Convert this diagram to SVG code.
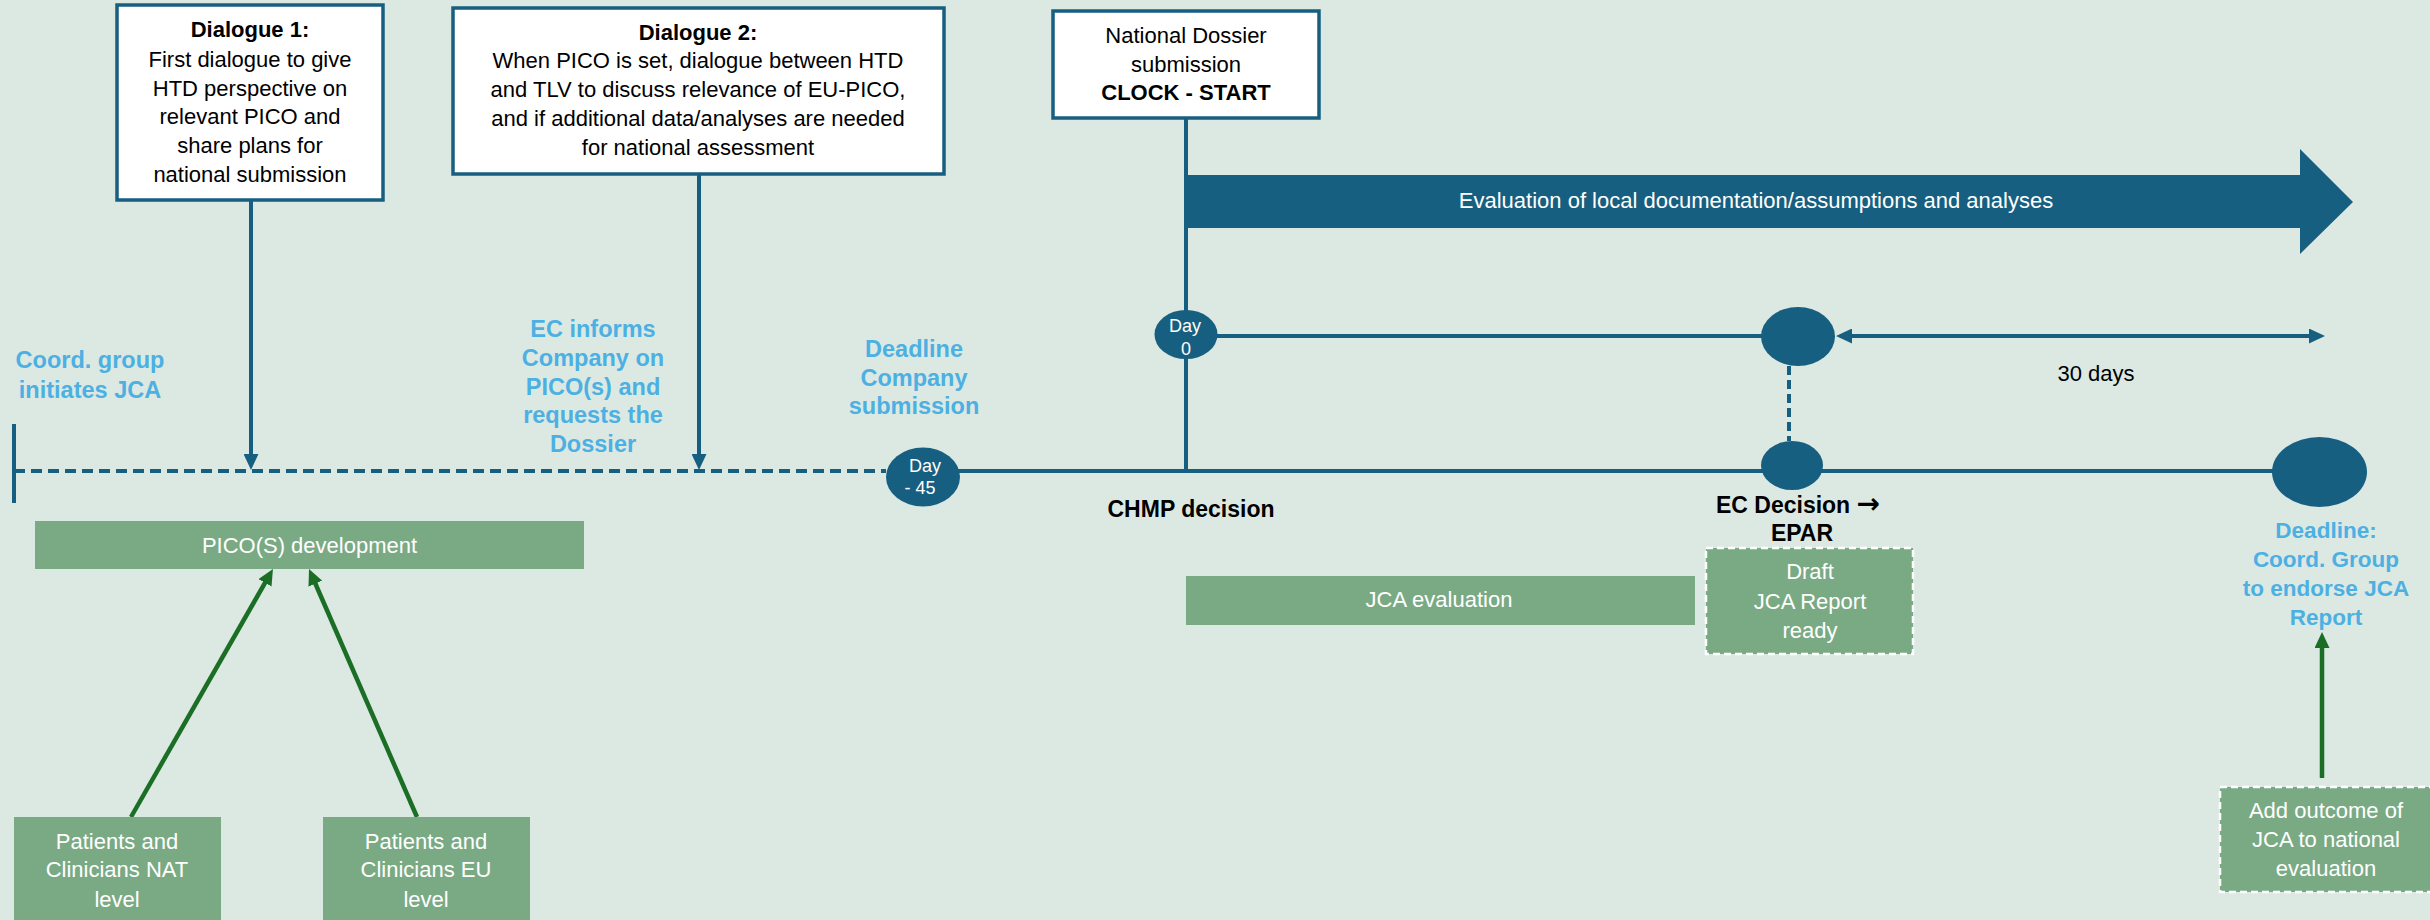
<svg xmlns="http://www.w3.org/2000/svg" width="2430" height="920" viewBox="0 0 2430 920">
<style>
text{font-family:"Liberation Sans",Arial,sans-serif}
.box{fill:#ffffff;stroke:#175f80;stroke-width:3.5}
.bt{font-size:22px;fill:#000;text-anchor:middle}
.bb{font-size:22px;fill:#000;text-anchor:middle;font-weight:bold}
.lbl{font-size:23.5px;fill:#4cb0e2;text-anchor:middle;font-weight:bold}
.blk{font-size:23px;fill:#000;text-anchor:middle;font-weight:bold}
.g{fill:#7aaa84}
.gd{fill:#7aaa84;stroke:#ffffff;stroke-width:2.5;stroke-dasharray:7 4}
.wt{font-size:22px;fill:#ffffff;text-anchor:middle}
.dot{fill:#175f80}
.dt{font-size:18px;fill:#ffffff;text-anchor:middle}
.ln{stroke:#175f80;stroke-width:4;fill:none}
.gl{stroke:#1b6e26;stroke-width:4.5;fill:none}
</style>
<defs>
<marker id="ab" viewBox="0 0 16 15" refX="4" refY="7.5" markerWidth="16" markerHeight="15" markerUnits="userSpaceOnUse" orient="auto-start-reverse"><path d="M0,0 L16,7.5 L0,15 z" fill="#175f80"/></marker>
<marker id="ag" viewBox="0 0 16 15" refX="4" refY="7.5" markerWidth="16" markerHeight="15" markerUnits="userSpaceOnUse" orient="auto"><path d="M0,0 L16,7.5 L0,15 z" fill="#1b6e26"/></marker>
</defs>
<rect x="0" y="0" width="2430" height="920" fill="#dce9e2"/>

<g id="connectors">
<line class="ln" x1="14" y1="471" x2="886" y2="471" stroke-dasharray="11 6"/>
<line class="ln" x1="14" y1="424" x2="14" y2="503"/>
<line class="ln" x1="923" y1="471" x2="2300" y2="471"/>
<line class="ln" x1="1186" y1="118" x2="1186" y2="471"/>
<line class="ln" x1="1200" y1="336" x2="1790" y2="336"/>
<line class="ln" x1="1789" y1="366" x2="1789" y2="441" stroke-dasharray="9 5"/>
<line class="ln" x1="251" y1="200" x2="251" y2="458" marker-end="url(#ab)"/>
<line class="ln" x1="699" y1="174" x2="699" y2="458" marker-end="url(#ab)"/>
<line class="ln" x1="1848" y1="336" x2="2313" y2="336" marker-start="url(#ab)" marker-end="url(#ab)"/>
<line class="gl" x1="131" y1="817" x2="267" y2="579.4" marker-end="url(#ag)"/>
<line class="gl" x1="417" y1="817" x2="313.8" y2="580" marker-end="url(#ag)"/>
<line class="gl" x1="2322" y1="778" x2="2322" y2="644" marker-end="url(#ag)"/>
</g>

<g id="dialogue1">
<rect class="box" x="117" y="5" width="266" height="195"/>
<text class="bb" x="250" y="37">Dialogue 1:</text>
<text class="bt" x="250" y="67">First dialogue to give</text>
<text class="bt" x="250" y="96">HTD perspective  on</text>
<text class="bt" x="250" y="124">relevant PICO and</text>
<text class="bt" x="250" y="153">share plans for</text>
<text class="bt" x="250" y="182">national submission</text>
</g>

<g id="dialogue2">
<rect class="box" x="453" y="8" width="491" height="166"/>
<text class="bb" x="698" y="40">Dialogue 2:</text>
<text class="bt" x="698" y="68">When PICO is set, dialogue between HTD</text>
<text class="bt" x="698" y="97">and TLV to discuss relevance of EU-PICO,</text>
<text class="bt" x="698" y="126">and if additional data/analyses are needed</text>
<text class="bt" x="698" y="155">for national assessment</text>
</g>

<g id="national-dossier">
<rect class="box" x="1053" y="11" width="266" height="107"/>
<text class="bt" x="1186" y="43">National Dossier</text>
<text class="bt" x="1186" y="72">submission</text>
<text class="bb" x="1186" y="100">CLOCK - START</text>
</g>

<g id="evaluation-arrow">
<path d="M1186,175 L2300,175 L2300,149 L2353,202 L2300,254 L2300,228 L1186,228 z" fill="#175f80"/>
<text class="wt" x="1756" y="208">Evaluation of local documentation/assumptions and analyses</text>
</g>

<g id="coord-group">
<text class="lbl" x="90" y="368">Coord. group</text>
<text class="lbl" x="90" y="398">initiates JCA</text>
</g>

<g id="ec-informs">
<text class="lbl" x="593" y="337">EC informs</text>
<text class="lbl" x="593" y="366">Company on</text>
<text class="lbl" x="593" y="395">PICO(s) and</text>
<text class="lbl" x="593" y="423">requests the</text>
<text class="lbl" x="593" y="452">Dossier</text>
</g>

<g id="deadline-company">
<text class="lbl" x="914" y="357">Deadline</text>
<text class="lbl" x="914" y="386">Company</text>
<text class="lbl" x="914" y="414">submission</text>
</g>

<g id="day-minus45">
<ellipse class="dot" cx="923" cy="477" rx="37" ry="29.5"/>
<text class="dt" x="925" y="472">Day</text>
<text class="dt" x="920" y="494">- 45</text>
</g>

<g id="day0">
<ellipse class="dot" cx="1186" cy="334.5" rx="31.5" ry="24.5"/>
<text class="dt" x="1185" y="332">Day</text>
<text class="dt" x="1186" y="355">0</text>
</g>

<g id="chmp">
<text class="blk" x="1191" y="517">CHMP decision</text>
</g>

<g id="ec-upper">
<ellipse class="dot" cx="1798" cy="336.5" rx="37" ry="29.5"/>
</g>

<g id="thirty-days">
<text x="2096" y="381" font-size="22" fill="#000" text-anchor="middle">30 days</text>
</g>

<g id="ec-decision">
<ellipse class="dot" cx="1792" cy="465.5" rx="31" ry="24.5"/>
<text class="blk" x="1798" y="513">EC Decision <tspan font-family="'DejaVu Sans',sans-serif" font-size="28">→</tspan></text>
<text class="blk" x="1802" y="541">EPAR</text>
</g>

<g id="deadline-end">
<ellipse class="dot" cx="2319.5" cy="472" rx="47.5" ry="35"/>
<text x="2326" y="538" font-size="22.5" font-weight="bold" fill="#4cb0e2" text-anchor="middle">Deadline:</text>
<text x="2326" y="567" font-size="22.5" font-weight="bold" fill="#4cb0e2" text-anchor="middle">Coord. Group</text>
<text x="2326" y="596" font-size="22.5" font-weight="bold" fill="#4cb0e2" text-anchor="middle">to endorse JCA</text>
<text x="2326" y="625" font-size="22.5" font-weight="bold" fill="#4cb0e2" text-anchor="middle">Report</text>
</g>

<g id="pico-development">
<rect class="g" x="35" y="521" width="549" height="48"/>
<text class="wt" x="309.5" y="553">PICO(S) development</text>
</g>

<g id="patients-nat">
<rect class="g" x="14" y="817" width="207" height="110"/>
<text class="wt" x="117" y="849">Patients and</text>
<text class="wt" x="117" y="877">Clinicians NAT</text>
<text class="wt" x="117" y="907">level</text>
</g>

<g id="patients-eu">
<rect class="g" x="323" y="817" width="207" height="110"/>
<text class="wt" x="426" y="849">Patients and</text>
<text class="wt" x="426" y="877">Clinicians EU</text>
<text class="wt" x="426" y="907">level</text>
</g>

<g id="jca-evaluation">
<rect class="g" x="1186" y="576" width="509" height="49"/>
<text class="wt" x="1439" y="607">JCA evaluation</text>
</g>

<g id="draft-report">
<rect class="gd" x="1706" y="548" width="207" height="106"/>
<text class="wt" x="1810" y="579">Draft</text>
<text class="wt" x="1810" y="609">JCA Report</text>
<text class="wt" x="1810" y="638">ready</text>
</g>

<g id="add-outcome">
<rect class="gd" x="2220" y="787" width="214" height="105"/>
<text class="wt" x="2326" y="818">Add outcome of</text>
<text class="wt" x="2326" y="847">JCA to national</text>
<text class="wt" x="2326" y="876">evaluation</text>
</g>
</svg>
